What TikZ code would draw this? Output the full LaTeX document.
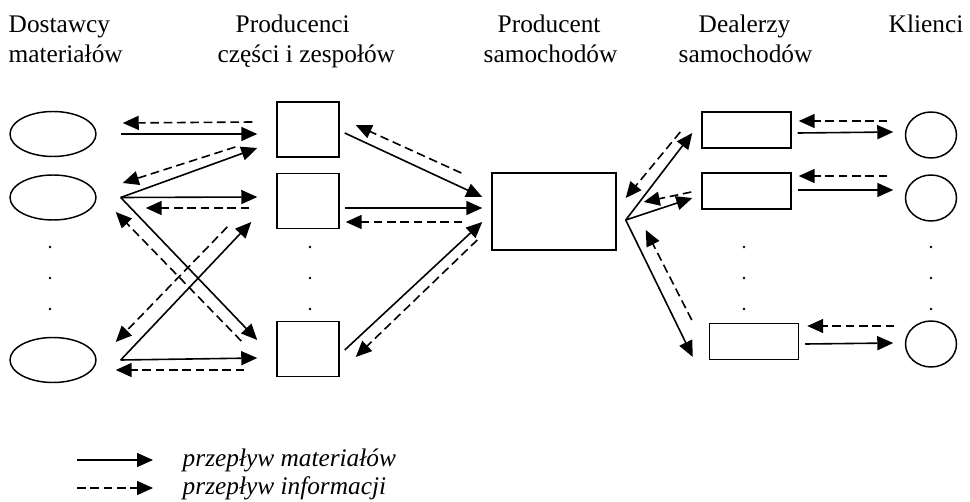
\documentclass[tikz,border=0pt]{standalone}
\usepackage{fontspec}
\setmainfont{Liberation Serif}
\usetikzlibrary{arrows.meta,calc,shapes.geometric}

\begin{document}
\begin{tikzpicture}[x=0.75pt,y=-0.75pt,
    every node/.style={inner sep=0pt,line width=1.1pt},
    supplier/.style={draw,ellipse,minimum width=64.5pt,minimum height=33.75pt},
    partbox/.style={draw,rectangle,minimum width=46.5pt,minimum height=41.25pt},
    dealerbox/.style={draw,rectangle,minimum width=66.75pt,minimum height=27pt},
    client/.style={draw,ellipse,minimum width=38.25pt,minimum height=34.5pt},
    head/.style={anchor=base west,font=\fontsize{19}{22}\selectfont},
    legend/.style={anchor=base west,font=\fontsize{19}{22}\selectfont\itshape},
    matflow/.style={line width=1.2pt,-{Triangle[length=12pt,width=10.5pt]}},
    infflow/.style={matflow,dash pattern=on 6.5pt off 3.5pt}]
    \useasboundingbox (0,0) rectangle (970,502);

    \node[head] (h1a) at (8,33) {Dostawcy};
    \node[head] (h1b) at (8,63) {materiałów};
    \node[head] (h2a) at (235,33) {Producenci};
    \node[head] (h2b) at (217,63) {części i zespołów};
    \node[head] (h3a) at (497,33) {Producent};
    \node[head] (h3b) at (483,63) {samochodów};
    \node[head] (h4a) at (698,33) {Dealerzy};
    \node[head] (h4b) at (678,63) {samochodów};
    \node[head] (h5a) at (888,33) {Klienci};

    \node[supplier] (d1) at (53,134) {};
    \node[supplier] (d2) at (53,197.5) {};
    \node[supplier] (d3) at (53,360) {};
    \node[partbox] (p1) at (308,129.5) {};
    \node[partbox] (p2) at (308,201) {};
    \node[partbox] (p3) at (308,349) {};
    \node[draw,rectangle,minimum width=93pt,minimum height=57.75pt] (car) at (554,211.5) {};
    \node[dealerbox] (s1) at (746.5,130) {};
    \node[dealerbox] (s2) at (746.5,191) {};
    \node[dealerbox] (s3) at (754,341.5) {};
    \node[client] (k1) at (931,135) {};
    \node[client] (k2) at (931,198) {};
    \node[client] (k3) at (931,344) {};

    \foreach \x in {50,310,744,931}
        \foreach \y in {247,278,309}
            \fill (\x,\y) circle[radius=1.1pt];

    \draw[matflow] ($(d1.east)+(24,0)$) -- ($(p1.west)+(-19,4.5)$);
    \draw[matflow] ($(d2.east)+(24,0)$) -- ($(p1.west)+(-19,18.5)$);
    \draw[matflow] ($(d2.east)+(24,0)$) -- ($(p2.west)+(-19,-4)$);
    \draw[matflow] ($(d2.east)+(24,0)$) -- ($(p3.west)+(-19,-9)$);
    \draw[matflow] ($(d3.east)+(24,0)$) -- ($(p3.west)+(-19,9)$);
    \draw[matflow] ($(d3.east)+(24,0)$) -- ($(p2.west)+(-25,21)$);
    \draw[infflow] ($(p1.west)+(-24,-7.5)$) -- ($(d1.east)+(26,-11)$);
    \draw[infflow] ($(p1.west)+(-41,17.5)$) -- ($(d2.east)+(26,-14.5)$);
    \draw[infflow] ($(p2.west)+(-27,7)$) -- ($(d2.east)+(49,10.5)$);
    \draw[infflow] ($(p3.west)+(-35,-8)$) -- ($(d2.east)+(19,14.5)$);
    \draw[infflow] ($(p3.west)+(-32,21)$) -- ($(d3.east)+(19,10)$);
    \draw[infflow] ($(p2.west)+(-49,26)$) -- ($(d3.east)+(19,-18)$);

    \draw[matflow] ($(p1.east)+(5,3.5)$) -- ($(car.west)+(-9,-14.5)$);
    \draw[matflow] ($(p2.east)+(5,7)$) -- ($(car.west)+(-9,-3.5)$);
    \draw[matflow] ($(p3.east)+(5,1)$) -- ($(car.west)+(-9,10.5)$);
    \draw[infflow] ($(car.west)+(-30,-38.5)$) -- ($(p1.east)+(16,-4.5)$);
    \draw[infflow] ($(car.west)+(-29,10.5)$) -- ($(p2.east)+(6,21)$);
    \draw[infflow] ($(car.west)+(-14,28.5)$) -- ($(p3.east)+(16,8)$);

    \coordinate (fork) at ($(car.east)+(9,8.5)$);
    \draw[matflow] (fork) -- ($(s1.west)+(-9,3)$);
    \draw[matflow] (fork) -- ($(s2.west)+(-9,7)$);
    \draw[matflow] (fork) -- ($(s3.west)+(-16,15.5)$);
    \draw[infflow] ($(s1.west)+(-21,2)$) -- ($(car.east)+(9,-13.5)$);
    \draw[infflow] ($(s2.west)+(-10,1)$) -- ($(car.east)+(27,-9.5)$);
    \draw[infflow] ($(s3.west)+(-17,-21.5)$) -- ($(car.east)+(29,18.5)$);

    \draw[matflow] ($(s1.east)+(6,3)$) -- ($(k1.west)+(-11.5,-3)$);
    \draw[matflow] ($(s2.east)+(6,-1)$) -- ($(k2.west)+(-11.5,-8)$);
    \draw[matflow] ($(s3.east)+(6,2.5)$) -- ($(k3.west)+(-11.5,-1)$);
    \draw[infflow] ($(k1.west)+(-17.5,-14)$) -- ($(s1.east)+(7,-9)$);
    \draw[infflow] ($(k2.west)+(-17.5,-22)$) -- ($(s2.east)+(7,-15)$);
    \draw[infflow] ($(k3.west)+(-10.5,-18)$) -- ($(s3.east)+(8,-15.5)$);

    \coordinate (m1) at (77,460);
    \coordinate (m2) at (153,460);
    \coordinate (i1) at (77,488);
    \coordinate (i2) at (153,488);
    \draw[matflow] (m1) -- (m2);
    \draw[infflow] (i1) -- (i2);
    \node[legend] (lm) at (182,466) {przepływ materiałów};
    \node[legend] (li) at (182,494) {przepływ informacji};
\end{tikzpicture}
\end{document}
